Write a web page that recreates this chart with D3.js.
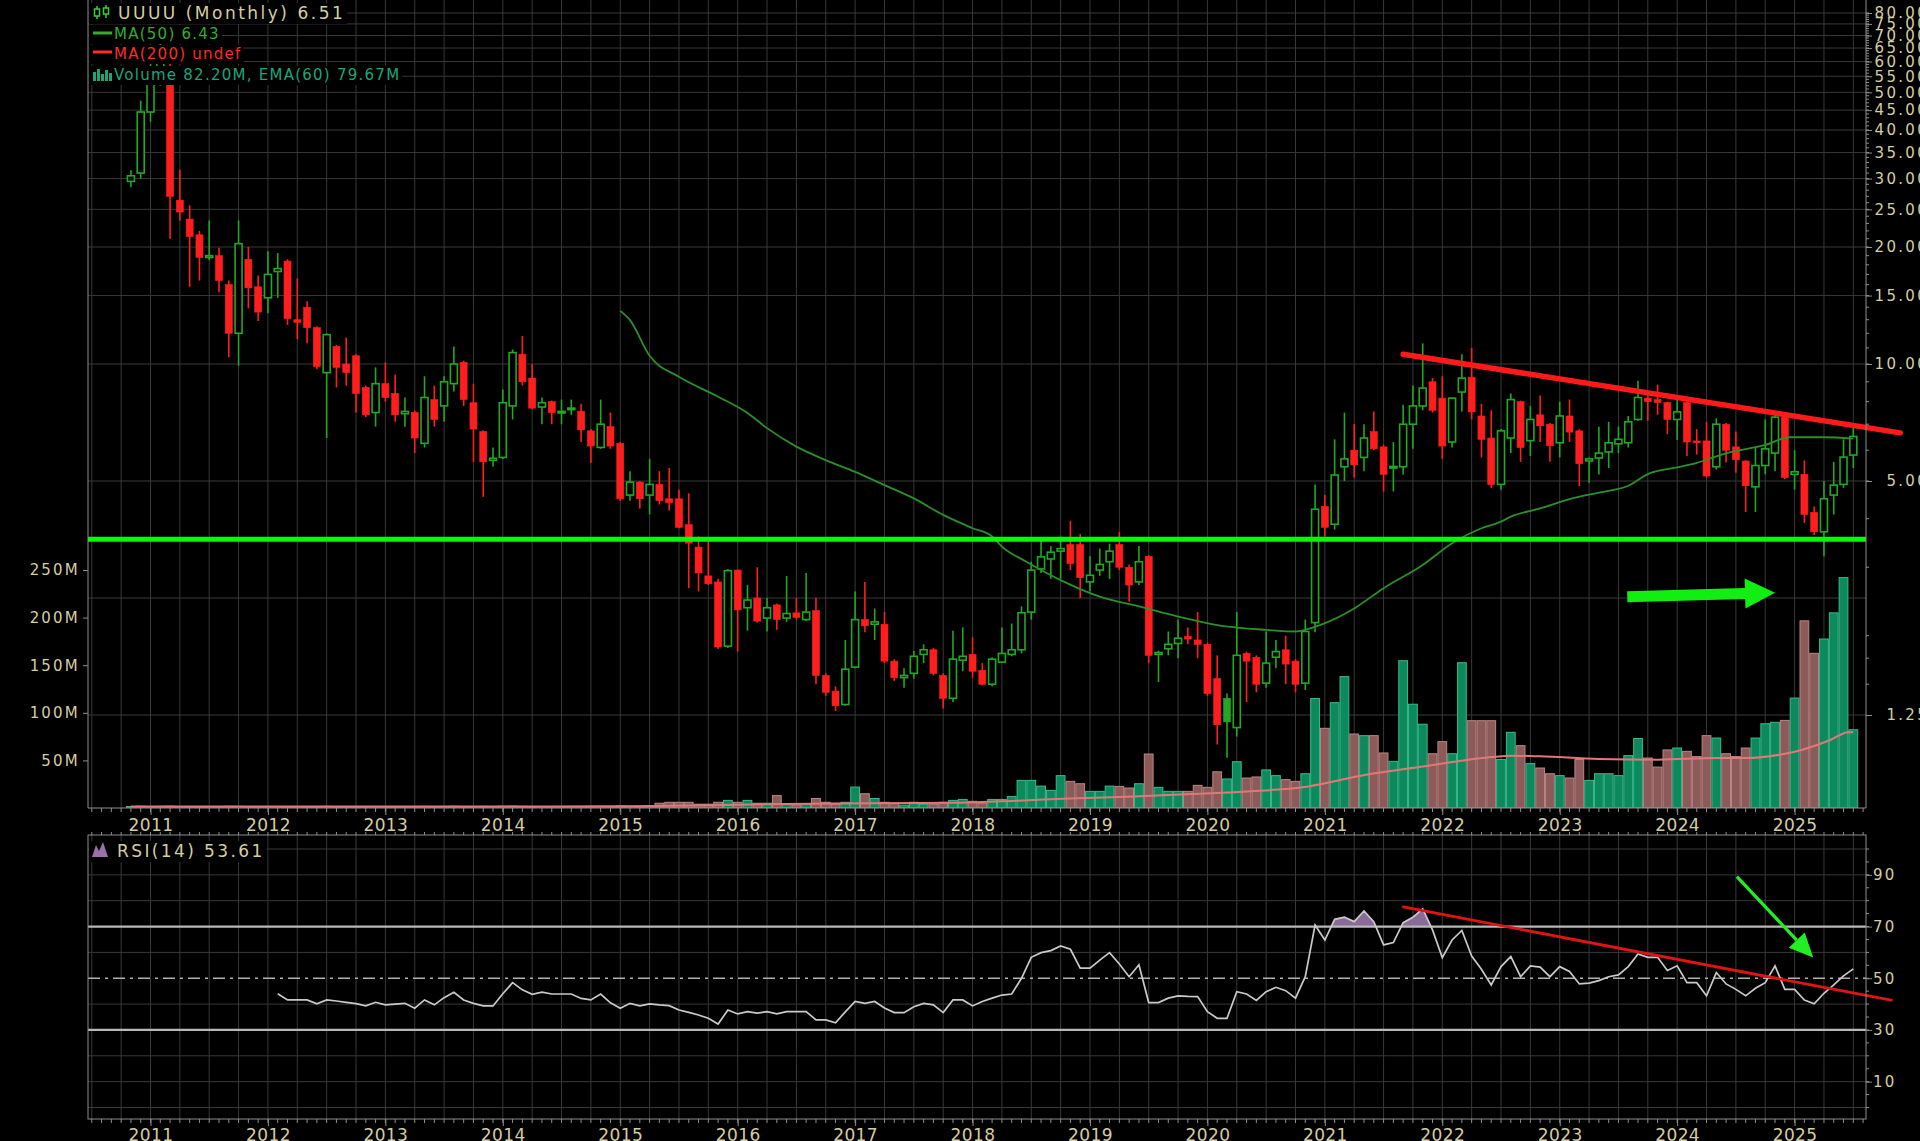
<!DOCTYPE html>
<html>
<head>
<meta charset="utf-8">
<script src="https://cdn.jsdelivr.net/npm/d3@7/dist/d3.min.js"></script>
<style>
html,body{margin:0;padding:0;background:#000;overflow:hidden;}
svg{display:block;}
text{font-family:"DejaVu Sans",Verdana,sans-serif;}
</style>
</head>
<body>
<svg id="chart" width="1920" height="1141"></svg>
<script>
// ---------------- DATA ----------------
// month index counted from Jan 2011 (= 0); first candle is Nov 2010
const firstCandleMonth = -2;
const opens = [
  29.5, 31,
  44.5, 56, 58, 26.4, 23.6, 21.5, 18.8, 19, 16, 12, 18.6, 15.8,
  14.8, 17.3, 18.4, 13, 14, 12.4, 9.5, 11.1, 10, 10.5, 8.7, 7.5,
  8.9, 8.4, 7.45, 7.5, 6.25, 8.1, 7.8, 8.9, 10.1, 7.95, 6.7, 5.65,
  5.75, 7.8, 10.6, 9.2, 7.75, 8, 7.5, 7.65, 7.56, 6.73, 6.1, 6.9,
  6.25, 4.6, 4.97, 4.6, 4.9, 4.5, 4.5, 3.86, 3.38, 2.85, 2.75, 1.88,
  2.95, 2.36, 2.5, 2.22, 2.4, 2.22, 2.29, 2.2, 2.32, 1.58, 1.44, 1.33,
  1.66, 2.2, 2.14, 2.14, 1.72, 1.56, 1.6, 1.79, 1.84, 1.58, 1.38, 1.73,
  1.79, 1.63, 1.5, 1.71, 1.79, 1.84, 2.3, 2.97, 3.15, 3.3, 3.43, 3.43,
  2.75, 2.95, 3.1, 3.43, 3.0, 2.75, 3.2, 1.79, 1.85, 1.91, 1.99, 1.95,
  1.9, 1.55, 1.38, 1.16, 1.8, 1.76, 1.51, 1.76, 1.84, 1.72, 1.51, 2.16,
  4.3, 3.87, 5.44, 6.0, 5.75, 6.7, 6.12, 5.4, 5.44, 7.0, 7.8, 9.0,
  8.17, 6.3, 8.47, 9.25, 7.35, 6.45, 4.9, 6.45, 8.0, 6.35, 7.4, 7.0,
  6.27, 7.35, 6.73, 5.63, 5.73, 5.94, 6.23, 6.27, 7.2, 8.17, 8.1, 7.96,
  7.2, 7.96, 6.34, 6.34, 5.44, 7.0, 6.12, 5.63, 4.83, 5.48, 5.9, 7.3,
  5.2, 5.2, 4.15, 3.7, 4.6, 4.9, 5.83
];
const highs = [
  31.5, 47.6,
  62, 70, 60, 31.6, 25.6, 22, 23.4, 19.9, 16.4, 23.4, 20, 16.9,
  19.5, 19.3, 18.6, 16.6, 14.5, 12.5, 12, 11.2, 11.7, 10.6, 8.8, 9.8,
  10.1, 9.4, 8.2, 7.6, 9.3, 8.8, 9.3, 11.1, 10.2, 8.9, 6.75, 6.1,
  8.6, 10.9, 11.8, 10, 8.2, 8.05, 8.1, 8.1, 7.9, 6.8, 8.1, 7.5,
  6.3, 5.3, 5.0, 5.7, 5.3, 5.4, 4.75, 4.65, 3.6, 3.55, 2.8, 2.97,
  2.96, 2.7, 3.0, 2.5, 2.42, 2.85, 2.5, 2.9, 2.5, 1.6, 1.48, 1.95,
  2.6, 2.75, 2.35, 2.3, 1.74, 1.65, 1.83, 1.9, 1.86, 1.6, 2.06, 2.1,
  1.98, 1.7, 1.76, 2.1, 2.15, 2.38, 3.1, 3.55, 3.4, 3.6, 3.95, 3.65,
  3.2, 3.35, 3.45, 3.7, 3.05, 3.4, 3.22, 1.83, 2.05, 2.2, 2.1, 2.3,
  1.92, 1.78, 1.42, 2.3, 1.82, 1.78, 2.05, 1.95, 2.0, 1.74, 2.2, 4.9,
  4.6, 6.4, 7.5, 7.0, 7.0, 7.55, 6.2, 6.3, 7.85, 8.8, 11.3, 9.2,
  9.3, 8.2, 10.6, 11.0, 7.9, 7.6, 6.8, 8.4, 8.05, 7.8, 8.3, 7.05,
  8.0, 8.1, 6.8, 5.75, 6.9, 7.1, 6.9, 7.35, 9.05, 8.4, 8.85, 8.0,
  8.3, 8.0, 6.8, 7.1, 7.25, 7.05, 6.7, 5.65, 6.1, 7.2, 7.4, 7.4,
  6.0, 5.65, 4.3, 5.0, 5.6, 6.4, 6.85
];
const lows = [
  28.5, 30,
  42, 52, 21, 23.4, 15.8, 16.4, 18.5, 15.3, 10.4, 9.9, 13.9, 12.9,
  13.5, 14.8, 12.6, 11.6, 11.3, 9.7, 6.45, 8.7, 8.8, 7.5, 7.3, 6.9,
  8.0, 7.1, 6.9, 5.9, 6.1, 6.9, 7.1, 8.5, 7.8, 5.6, 4.55, 5.45,
  5.7, 7.2, 8.8, 7.65, 7.0, 7.0, 7.0, 7.4, 6.3, 5.56, 6.05, 6.05,
  4.45, 4.45, 4.25, 4.1, 4.35, 4.2, 3.78, 2.65, 2.6, 2.7, 1.85, 1.86,
  1.82, 2.06, 2.16, 2.05, 2.07, 2.17, 2.2, 2.18, 1.5, 1.4, 1.28, 1.32,
  1.65, 2.04, 1.95, 1.7, 1.53, 1.47, 1.55, 1.7, 1.58, 1.3, 1.35, 1.62,
  1.56, 1.49, 1.48, 1.7, 1.77, 1.8, 2.2, 2.9, 2.8, 2.8, 2.95, 2.5,
  2.6, 2.85, 2.8, 2.95, 2.45, 2.7, 1.7, 1.52, 1.78, 1.75, 1.9, 1.75,
  1.4, 1.05, 0.97, 1.1, 1.35, 1.43, 1.47, 1.65, 1.5, 1.43, 1.45, 2.04,
  3.6, 3.75, 5.0, 5.1, 5.3, 6.0, 4.7, 4.7, 5.2, 6.05, 7.6, 7.5,
  5.7, 6.1, 7.55, 7.2, 5.75, 4.8, 4.75, 5.9, 5.6, 5.8, 6.3, 5.6,
  5.75, 6.3, 4.85, 4.95, 5.2, 5.4, 5.9, 6.1, 7.15, 7.15, 7.4, 6.6,
  6.37, 5.8, 5.85, 5.1, 5.35, 5.58, 5.25, 4.16, 4.16, 5.2, 5.3, 5.05,
  4.75, 3.9, 3.63, 3.2, 4.1, 4.8, 5.4
];
const closes = [
  30.5, 44.5,
  56, 60, 27, 24.6, 21.3, 18.8, 19.0, 16.4, 12, 20.4, 15.7, 13.6,
  17, 17.6, 13.1, 12.8, 12.4, 9.85, 11.9, 9.8, 9.5, 8.4, 7.4, 8.9,
  8.2, 7.4, 7.55, 6.45, 8.2, 7.2, 9.0, 10, 8.1, 6.8, 5.6, 5.72,
  7.95, 10.7, 9.0, 7.7, 7.95, 7.5, 7.55, 7.7, 6.77, 6.15, 7.0, 6.15,
  4.5, 4.97, 4.5, 4.9, 4.45, 4.4, 3.8, 3.46, 2.9, 2.72, 1.87, 2.94,
  2.33, 2.47, 2.18, 2.36, 2.2, 2.28, 2.23, 2.3, 1.58, 1.43, 1.32, 1.64,
  2.2, 2.12, 2.17, 1.72, 1.56, 1.58, 1.77, 1.84, 1.6, 1.38, 1.74, 1.77,
  1.62, 1.5, 1.74, 1.8, 1.84, 2.29, 2.95, 3.19, 3.28, 3.35, 3.07, 2.82,
  2.86, 3.05, 3.3, 3.0, 2.7, 3.1, 1.78, 1.81, 1.9, 1.97, 1.96, 1.9,
  1.42, 1.18, 1.2, 1.78, 1.72, 1.5, 1.7, 1.82, 1.69, 1.5, 2.05, 4.23,
  3.8, 5.18, 5.7, 5.5, 6.45, 6.05, 5.2, 5.45, 7.0, 7.8, 8.67, 7.6,
  6.15, 8.17, 9.2, 7.53, 6.4, 4.9, 6.73, 8.1, 6.1, 7.2, 6.93, 6.16,
  7.35, 6.68, 5.54, 5.7, 5.9, 6.27, 6.4, 7.1, 8.2, 8.0, 7.96, 7.2,
  7.53, 6.3, 6.27, 5.15, 7.0, 6.0, 5.67, 4.86, 5.48, 6.05, 7.3, 5.1,
  5.28, 4.1, 3.7, 4.5, 4.88, 5.76, 6.51
];
// monthly volume, millions of shares
const volumes = [
  1.6, 1.8,
  1.5, 1.7, 1.9, 1.6, 1.5, 1.4, 1.5, 1.6, 1.8, 1.7, 1.5, 1.4,
  1.5, 1.4, 1.6, 1.5, 1.4, 1.6, 1.7, 1.5, 1.4, 1.5, 1.6, 1.5,
  1.4, 1.5, 1.3, 1.6, 1.7, 1.5, 1.6, 1.8, 1.5, 1.6, 1.7, 1.4,
  1.8, 2.0, 1.7, 1.6, 1.5, 1.4, 1.5, 1.6, 1.7, 1.8, 1.9, 1.7,
  2.2, 2.0, 2.1, 2.3, 5, 6, 6, 6, 4, 4, 6, 8,
  6, 8, 5, 5, 13, 4, 3, 4, 10, 6, 4, 6,
  22, 15, 10, 6, 5, 3, 6, 4, 4, 6, 8, 9,
  7, 5, 9, 9, 12, 29, 29, 23, 18.5, 34, 28, 25.5,
  17.5, 17.5, 23, 22.7, 21, 25.5, 56.7, 21.7, 17.5, 17.5, 17.5, 23.8,
  21.7, 38, 30.5, 48.6, 31.5, 32.6, 40, 34, 29.8, 28, 36, 115,
  83.7, 110.6, 138, 77.7, 76, 76, 57.8, 49, 154.7, 109, 88, 57,
  69.7, 57, 152.6, 91.7, 91.7, 91.7, 51, 79.5, 65.5, 46.6, 42, 36,
  34, 31.5, 51, 29, 36, 36, 34, 55, 73, 52.5, 43, 61,
  63, 59.5, 54, 76, 73.5, 57, 54, 63, 73.5, 88.5, 90, 92,
  115.5, 196.6, 162.5, 177.5, 205, 242, 82.2
];
// MA(50): [month index, price]
const ma50Points = [
  [48,13.7],[49,12.97],[51,10.5],[54,9.27],[58,8.24],[61,7.48],[63,6.84],[66,6.13],
  [69,5.66],[72,5.28],[75,4.88],[78,4.51],[81,4.09],[84,3.78],[86,3.6],[87,3.39],
  [89.5,3.1],[93,2.78],[97,2.52],[101,2.38],[105,2.24],[109,2.13],[114,2.07],[117,2.05],
  [119.5,2.13],[123,2.35],[126,2.65],[130,3.04],[133,3.46],[136,3.78],[138,3.93],[139,4.05],
  [142,4.25],[145,4.49],[148,4.67],[151,4.86],[153,5.21],[156,5.42],[158,5.57],[161,5.89],
  [165,6.19],[167.5,6.48],[171,6.48],[174,6.43]
];
// Volume EMA(60): [month index, millions]
const volEmaPoints = [
  [-2,1.5],[20,1.6],[40,1.7],[50,1.9],[60,3.5],[70,4.8],[82.7,5.6],[88.6,7.7],[94.6,10.2],
  [100.5,12],[106.5,14.7],[112.4,17.5],[118.3,22.7],[124.2,35],[130.2,43.8],[136.1,52.5],
  [139,55],[142,54.3],[148,51.5],[154,50.8],[160,52.5],[163,52.5],[167,57],[168.7,61],
  [171.7,71.7],[173.5,79.7],[174,79.67]
];
// RSI(14) monthly, Feb 2012 .. Jul 2025
const rsiFirstMonth = 13;
const rsiValues = [
  44, 41.6, 41.6, 41.6, 40.1, 41.6, 41.2, 40.7, 40.2, 39.3, 40.7,
  39.7, 40.0, 40.3, 38.4, 41.6, 39.7, 42.5, 44.6, 41.6, 40.3, 39.3, 39.3,
  44, 48.3, 45.5, 43.8, 44.6, 43.9, 43.9, 43.9, 42.2, 41.6, 43.9, 40.5,
  38.4, 40.3, 39.3, 40.1, 39.7, 39.4, 37.7, 36.8, 35.8, 34.5, 32.3, 37.7,
  36.2, 37.1, 36.5, 37.1, 36.2, 37.1, 37.1, 37.1, 33.9, 33.9, 32.8, 37,
  41, 40.3, 41, 38.5, 36.7, 36.7, 39, 40.3, 39.7, 36.7, 41.6, 41.6,
  39.3, 41, 42.3, 43.5, 43.9, 50, 58.1, 59.9, 60.7, 62.5, 61.2, 53.9,
  53.9, 57, 59.9, 55.5, 50.6, 55.2, 40.6, 40.6, 42.3, 43.2, 43, 42.9,
  37.1, 34.5, 34.5, 44.8, 43.9, 41.4, 44.8, 46.5, 45.2, 42.3, 50.6, 70.6,
  64.8, 72.8, 73.6, 71.9, 76, 71.9, 62.9, 63.8, 71.5, 73.6, 76.8, 68.7,
  58, 64.8, 68.5, 58.6, 53.5, 47.4, 54.5, 58.4, 50.6, 54.8, 54.3, 50.6,
  54.5, 52.6, 47.8, 48.1, 49.1, 50.6, 51.3, 54.5, 59.4, 58.1, 58.1, 53,
  54.8, 48.3, 48.3, 43.2, 52.2, 47.8, 45.7, 43.2, 46.1, 48.3, 54.8, 45.7,
  45.7, 41.6, 40.1, 44.2, 47.4, 50.9, 53.61
];
// annotations drawn on the chart
const supportLevel = 3.54;
const priceTrend = [[128, 10.6], [178.8, 6.65]];
const priceArrow = [[150.9, 2.52], [166.0, 2.58]];
const rsiTrend = [[127.9, 77.7], [178, 41.4]];
const rsiArrow = [[162.1, 89.3], [169.9, 58]];
// ticks / labels
const yearLabels = ["2011","2012","2013","2014","2015","2016","2017","2018","2019","2020","2021","2022","2023","2024","2025"];
const priceTicks = [80,75,70,65,60,55,50,45,40,35,30,25,20,15,10,5,1.25];
const priceGridExtra = [2.5];
const volumeTicks = [50,100,150,200,250];
const rsiTicks = [10,30,50,70,90];
const legendTexts = {
  title: "UUUU (Monthly) 6.51",
  ma50: "MA(50) 6.43",
  ma200: "MA(200) undef",
  volume: "Volume 82.20M, EMA(60) 79.67M",
  rsi: "RSI(14) 53.61"
};

// ---------------- LAYOUT ----------------
const W = 1920, H = 1141;
const L = 88, R = 1866, PB = 808, RT = 835, RB = 1119;
const GRID = "#383838", AXIS = "#8e8e8e", TXT = "#d4cda2";
const GREEN = "#22a822", RED = "#ff1e1e";

const x = d3.scaleLinear().domain([0, 168]).range([150.5, 1794.6]);
const y = d3.scaleLog().domain([1.25, 80]).range([715, 13]);
const vy = d3.scaleLinear().domain([0, 250]).range([PB, 570]);
const ry = d3.scaleLinear().domain([0, 100]).range([1107.5, 849]);

const candles = opens.map((o, i) => ({
  m: firstCandleMonth + i, o, h: highs[i], l: lows[i], c: closes[i], v: volumes[i]
}));
candles.forEach((d, i) => {
  d.up = i === 0 ? true : d.c >= candles[i - 1].c;
  d.hollow = d.c >= d.o;
});
const rsi = rsiValues.map((v, i) => [rsiFirstMonth + i, v]);

const svg = d3.select("#chart");
svg.append("rect").attr("width", W).attr("height", H).attr("fill", "#000");
const defs = svg.append("defs");
defs.append("clipPath").attr("id", "pclip").append("rect")
  .attr("x", L).attr("y", 0).attr("width", R - L).attr("height", PB);
defs.append("clipPath").attr("id", "rclip").append("rect")
  .attr("x", L).attr("y", RT).attr("width", R - L).attr("height", RB - RT);
defs.append("clipPath").attr("id", "obclip").append("rect")
  .attr("x", L).attr("y", RT).attr("width", R - L).attr("height", ry(70) - RT);

// ---------- grids ----------
const quarterMonths = d3.range(-6, 176, 3);
const gGrid = svg.append("g").attr("stroke", GRID).attr("stroke-width", 1);
gGrid.selectAll("line.vq").data(quarterMonths).join("line")
  .attr("x1", d => x(d)).attr("x2", d => x(d)).attr("y1", 0).attr("y2", PB);
gGrid.selectAll("line.vr").data(quarterMonths).join("line")
  .attr("x1", d => x(d)).attr("x2", d => x(d)).attr("y1", RT).attr("y2", RB);
gGrid.selectAll("line.hp").data(priceTicks.concat(priceGridExtra)).join("line")
  .attr("x1", L).attr("x2", R).attr("y1", d => y(d)).attr("y2", d => y(d));
gGrid.selectAll("line.hr").data(d3.range(0, 101, 10).filter(v => v !== 30 && v !== 50 && v !== 70)).join("line")
  .attr("x1", L).attr("x2", R).attr("y1", d => ry(d)).attr("y2", d => ry(d));

// ---------- volume ----------
const gVol = svg.append("g").attr("clip-path", "url(#pclip)");
const bw = (x(1) - x(0));
gVol.selectAll("rect").data(candles).join("rect")
  .attr("x", d => x(d.m) - bw / 2 + 0.5)
  .attr("y", d => vy(d.v))
  .attr("width", bw - 1)
  .attr("height", d => vy(0) - vy(d.v))
  .attr("fill", d => d.up ? "#0c8a5e" : "#8d5a5a")
  .attr("stroke", d => d.up ? "#3bb98c" : "#bb8686")
  .attr("stroke-width", 1);
gVol.append("path").datum(volEmaPoints)
  .attr("d", d3.line().x(d => x(d[0])).y(d => vy(d[1])).curve(d3.curveMonotoneX))
  .attr("fill", "none").attr("stroke", "#e07878").attr("stroke-width", 2);

// ---------- candles ----------
const gC = svg.append("g").attr("clip-path", "url(#pclip)");
const cw = 7;
gC.selectAll("line").data(candles).join("line")
  .attr("x1", d => x(d.m)).attr("x2", d => x(d.m))
  .attr("y1", d => y(d.h)).attr("y2", d => y(d.l))
  .attr("stroke", d => d.up ? GREEN : RED).attr("stroke-width", 1.6);
gC.selectAll("rect").data(candles).join("rect")
  .attr("x", d => x(d.m) - cw / 2)
  .attr("y", d => y(Math.max(d.o, d.c)))
  .attr("width", cw)
  .attr("height", d => Math.max(1.5, Math.abs(y(d.o) - y(d.c))))
  .attr("fill", d => d.hollow ? "#000" : (d.up ? GREEN : RED))
  .attr("stroke", d => d.up ? GREEN : RED)
  .attr("stroke-width", d => d.hollow ? 1.6 : 0.6);

// MA(50)
gC.append("path").datum(ma50Points)
  .attr("d", d3.line().x(d => x(d[0])).y(d => y(d[1])).curve(d3.curveMonotoneX))
  .attr("fill", "none").attr("stroke", "#2b8f2b").attr("stroke-width", 1.8);

// support line
svg.append("line").attr("x1", L).attr("x2", R)
  .attr("y1", y(supportLevel)).attr("y2", y(supportLevel))
  .attr("stroke", "#00ff00").attr("stroke-width", 5);
// resistance trendline
svg.append("line")
  .attr("x1", x(priceTrend[0][0])).attr("y1", y(priceTrend[0][1]))
  .attr("x2", x(priceTrend[1][0])).attr("y2", y(priceTrend[1][1]))
  .attr("stroke", "#ff1a1a").attr("stroke-width", 5.5).attr("stroke-linecap", "round");

function arrowPolygon(x0, y0, x1, y1, shaftHalf, headLen, headHalf) {
  const ang = Math.atan2(y1 - y0, x1 - x0);
  const len = Math.hypot(x1 - x0, y1 - y0);
  const pts = [[0, -shaftHalf], [len - headLen, -shaftHalf], [len - headLen, -headHalf], [len, 0],
               [len - headLen, headHalf], [len - headLen, shaftHalf], [0, shaftHalf]];
  return pts.map(([a, b]) => [x0 + a * Math.cos(ang) - b * Math.sin(ang), y0 + a * Math.sin(ang) + b * Math.cos(ang)]);
}
const pa = arrowPolygon(x(priceArrow[0][0]), y(priceArrow[0][1]), x(priceArrow[1][0]), y(priceArrow[1][1]), 5.5, 30, 15);
svg.append("polygon").attr("points", pa.map(p => p.join(",")).join(" ")).attr("fill", "#11ee11");

// ---------- price panel axes ----------
svg.append("line").attr("x1", L).attr("x2", L).attr("y1", 0).attr("y2", PB).attr("stroke", AXIS);
svg.append("line").attr("x1", R).attr("x2", R).attr("y1", 0).attr("y2", PB).attr("stroke", AXIS);
svg.append("line").attr("x1", L).attr("x2", R).attr("y1", PB).attr("y2", PB).attr("stroke", AXIS);

// minor price ticks
const minorPrice = d3.range(2, 81, 1).concat([1.5, 1.75]);
svg.append("g").selectAll("line").data(minorPrice).join("line")
  .attr("x1", R).attr("x2", R + 3).attr("y1", d => y(d)).attr("y2", d => y(d))
  .attr("stroke", AXIS);

const priceAxis = d3.axisRight(y).tickValues(priceTicks).tickFormat(d3.format(".2f")).tickSize(6).tickPadding(2);
const gPA = svg.append("g").attr("transform", `translate(${R},0)`).call(priceAxis);
gPA.select(".domain").remove();
gPA.selectAll("line").attr("stroke", AXIS);
gPA.selectAll("text").attr("fill", TXT).attr("font-size", 15).attr("letter-spacing", 2.3)
  .attr("text-anchor", "end").attr("x", 63);

const volAxis = d3.axisLeft(vy).tickValues(volumeTicks).tickFormat(d => d + "M").tickSize(5).tickPadding(3);
const gVA = svg.append("g").attr("transform", `translate(${L},0)`).call(volAxis);
gVA.select(".domain").remove();
gVA.selectAll("line").attr("stroke", AXIS);
gVA.selectAll("text").attr("fill", TXT).attr("font-size", 15).attr("letter-spacing", 2.2);

// x axis (price panel)
const monthTicks = d3.range(-6, 176, 1);
svg.append("g").selectAll("line").data(monthTicks).join("line")
  .attr("x1", d => x(d)).attr("x2", d => x(d)).attr("y1", PB).attr("y2", PB + 4).attr("stroke", AXIS);
const yearMonths = yearLabels.map((s, i) => i * 12);
const xAxis = d3.axisBottom(x).tickValues(yearMonths).tickFormat((d, i) => yearLabels[i]).tickSize(7).tickPadding(4);
const gXA = svg.append("g").attr("transform", `translate(0,${PB})`).call(xAxis);
gXA.select(".domain").remove();
gXA.selectAll("line").attr("stroke", AXIS);
gXA.selectAll("text").attr("fill", TXT).attr("font-size", 17).attr("letter-spacing", 0.4);

// ---------- RSI panel ----------
const gR = svg.append("g").attr("clip-path", "url(#rclip)");
// overbought fill
gR.append("path").datum(rsi).attr("clip-path", "url(#obclip)")
  .attr("d", d3.area().x(d => x(d[0])).y0(ry(70)).y1(d => ry(d[1])))
  .attr("fill", "#8a6a98");
[70, 30].forEach(v => gR.append("line").attr("x1", L).attr("x2", R).attr("y1", ry(v)).attr("y2", ry(v))
  .attr("stroke", "#b8b8b8").attr("stroke-width", 2.2));
gR.append("line").attr("x1", L).attr("x2", R).attr("y1", ry(50)).attr("y2", ry(50))
  .attr("stroke", "#b0b0b0").attr("stroke-width", 1.6).attr("stroke-dasharray", "12,5,3,5");
gR.append("path").datum(rsi)
  .attr("d", d3.line().x(d => x(d[0])).y(d => ry(d[1])))
  .attr("fill", "none").attr("stroke", "#c9c9c9").attr("stroke-width", 1.7);
svg.append("line")
  .attr("x1", x(rsiTrend[0][0])).attr("y1", ry(rsiTrend[0][1]))
  .attr("x2", x(rsiTrend[1][0])).attr("y2", ry(rsiTrend[1][1]))
  .attr("stroke", "#e01414").attr("stroke-width", 2.8);
{
  const x0 = x(rsiArrow[0][0]), y0 = ry(rsiArrow[0][1]), x1 = x(rsiArrow[1][0]), y1 = ry(rsiArrow[1][1]);
  const ang = Math.atan2(y1 - y0, x1 - x0), hl = 24, hh = 11;
  const bx = x1 - hl * Math.cos(ang), by = y1 - hl * Math.sin(ang);
  svg.append("line").attr("x1", x0).attr("y1", y0).attr("x2", bx).attr("y2", by)
    .attr("stroke", "#22ee22").attr("stroke-width", 3.2);
  const p = [[x1, y1], [bx - hh * Math.sin(ang), by + hh * Math.cos(ang)], [bx + hh * Math.sin(ang), by - hh * Math.cos(ang)]];
  svg.append("polygon").attr("points", p.map(q => q.join(",")).join(" ")).attr("fill", "#22ee22");
}
// RSI borders
svg.append("rect").attr("x", L).attr("y", RT).attr("width", R - L).attr("height", RB - RT)
  .attr("fill", "none").attr("stroke", AXIS);
svg.append("g").selectAll("line").data(monthTicks).join("line")
  .attr("x1", d => x(d)).attr("x2", d => x(d)).attr("y1", RT - 3).attr("y2", RT).attr("stroke", AXIS);
svg.append("g").selectAll("line").data(monthTicks).join("line")
  .attr("x1", d => x(d)).attr("x2", d => x(d)).attr("y1", RB).attr("y2", RB + 4).attr("stroke", AXIS);
svg.append("g").selectAll("line").data(d3.range(0, 101, 5)).join("line")
  .attr("x1", R).attr("x2", R + 3).attr("y1", d => ry(d)).attr("y2", d => ry(d)).attr("stroke", AXIS);
const rsiAxis = d3.axisRight(ry).tickValues(rsiTicks).tickSize(6).tickPadding(1);
const gRA = svg.append("g").attr("transform", `translate(${R},0)`).call(rsiAxis);
gRA.select(".domain").remove();
gRA.selectAll("line").attr("stroke", AXIS);
gRA.selectAll("text").attr("fill", TXT).attr("font-size", 15).attr("letter-spacing", 2.3);
const xAxis2 = d3.axisBottom(x).tickValues(yearMonths).tickFormat((d, i) => yearLabels[i]).tickSize(7).tickPadding(3);
const gXB = svg.append("g").attr("transform", `translate(0,${RB})`).call(xAxis2);
gXB.select(".domain").remove();
gXB.selectAll("line").attr("stroke", AXIS);
gXB.selectAll("text").attr("fill", TXT).attr("font-size", 17).attr("letter-spacing", 0.4);

// ---------- legends ----------
function legendLine(xp, yb, str, color, size, spacing, bgLeft) {
  const g = svg.append("g");
  const t = g.append("text").attr("x", xp).attr("y", yb).attr("fill", color)
    .attr("font-size", size).attr("letter-spacing", spacing).text(str);
  const bb = t.node().getBBox();
  g.insert("rect", "text").attr("x", bgLeft).attr("y", bb.y)
    .attr("width", bb.x + bb.width - bgLeft + 2).attr("height", bb.height + 1).attr("fill", "#000");
  return g;
}
const g1 = legendLine(118, 19, legendTexts.title, TXT, 17, 2.5, L + 1);
// tiny candle icon
g1.append("line").attr("x1", 97).attr("x2", 97).attr("y1", 6).attr("y2", 19).attr("stroke", "#3ccc3c").attr("stroke-width", 1.5);
g1.append("rect").attr("x", 94.5).attr("y", 9).attr("width", 5).attr("height", 7).attr("fill", "#000").attr("stroke", "#3ccc3c").attr("stroke-width", 1.5);
g1.append("line").attr("x1", 106).attr("x2", 106).attr("y1", 5).attr("y2", 18).attr("stroke", "#3ccc3c").attr("stroke-width", 1.5);
g1.append("rect").attr("x", 103.5).attr("y", 8).attr("width", 5).attr("height", 6).attr("fill", "#000").attr("stroke", "#3ccc3c").attr("stroke-width", 1.5);
const g2 = legendLine(114, 39, legendTexts.ma50, "#2fae2f", 15, 1.25, L + 1);
g2.append("line").attr("x1", 93).attr("x2", 112).attr("y1", 33).attr("y2", 33).attr("stroke", "#2fae2f").attr("stroke-width", 3);
const g3 = legendLine(114, 59, legendTexts.ma200, "#ff2a2a", 15, 1.25, L + 1);
g3.append("line").attr("x1", 93).attr("x2", 112).attr("y1", 52).attr("y2", 52).attr("stroke", "#ff2a2a").attr("stroke-width", 3);
const g4 = legendLine(114, 80, legendTexts.volume, "#1ba57c", 15, 1.25, L + 1);
[[93,72],[97,69],[101,74],[105,70],[109,73]].forEach(([bx, by]) =>
  g4.append("rect").attr("x", bx).attr("y", by).attr("width", 3).attr("height", 81 - by).attr("fill", "#1ba57c"));
const g5 = legendLine(117, 857, legendTexts.rsi, TXT, 17, 2.4, L + 1);
g5.append("path").attr("d", "M92,857 L96,845 L99,851 L103,842 L108,857 Z").attr("fill", "#9a72a8");
</script>
</body>
</html>
